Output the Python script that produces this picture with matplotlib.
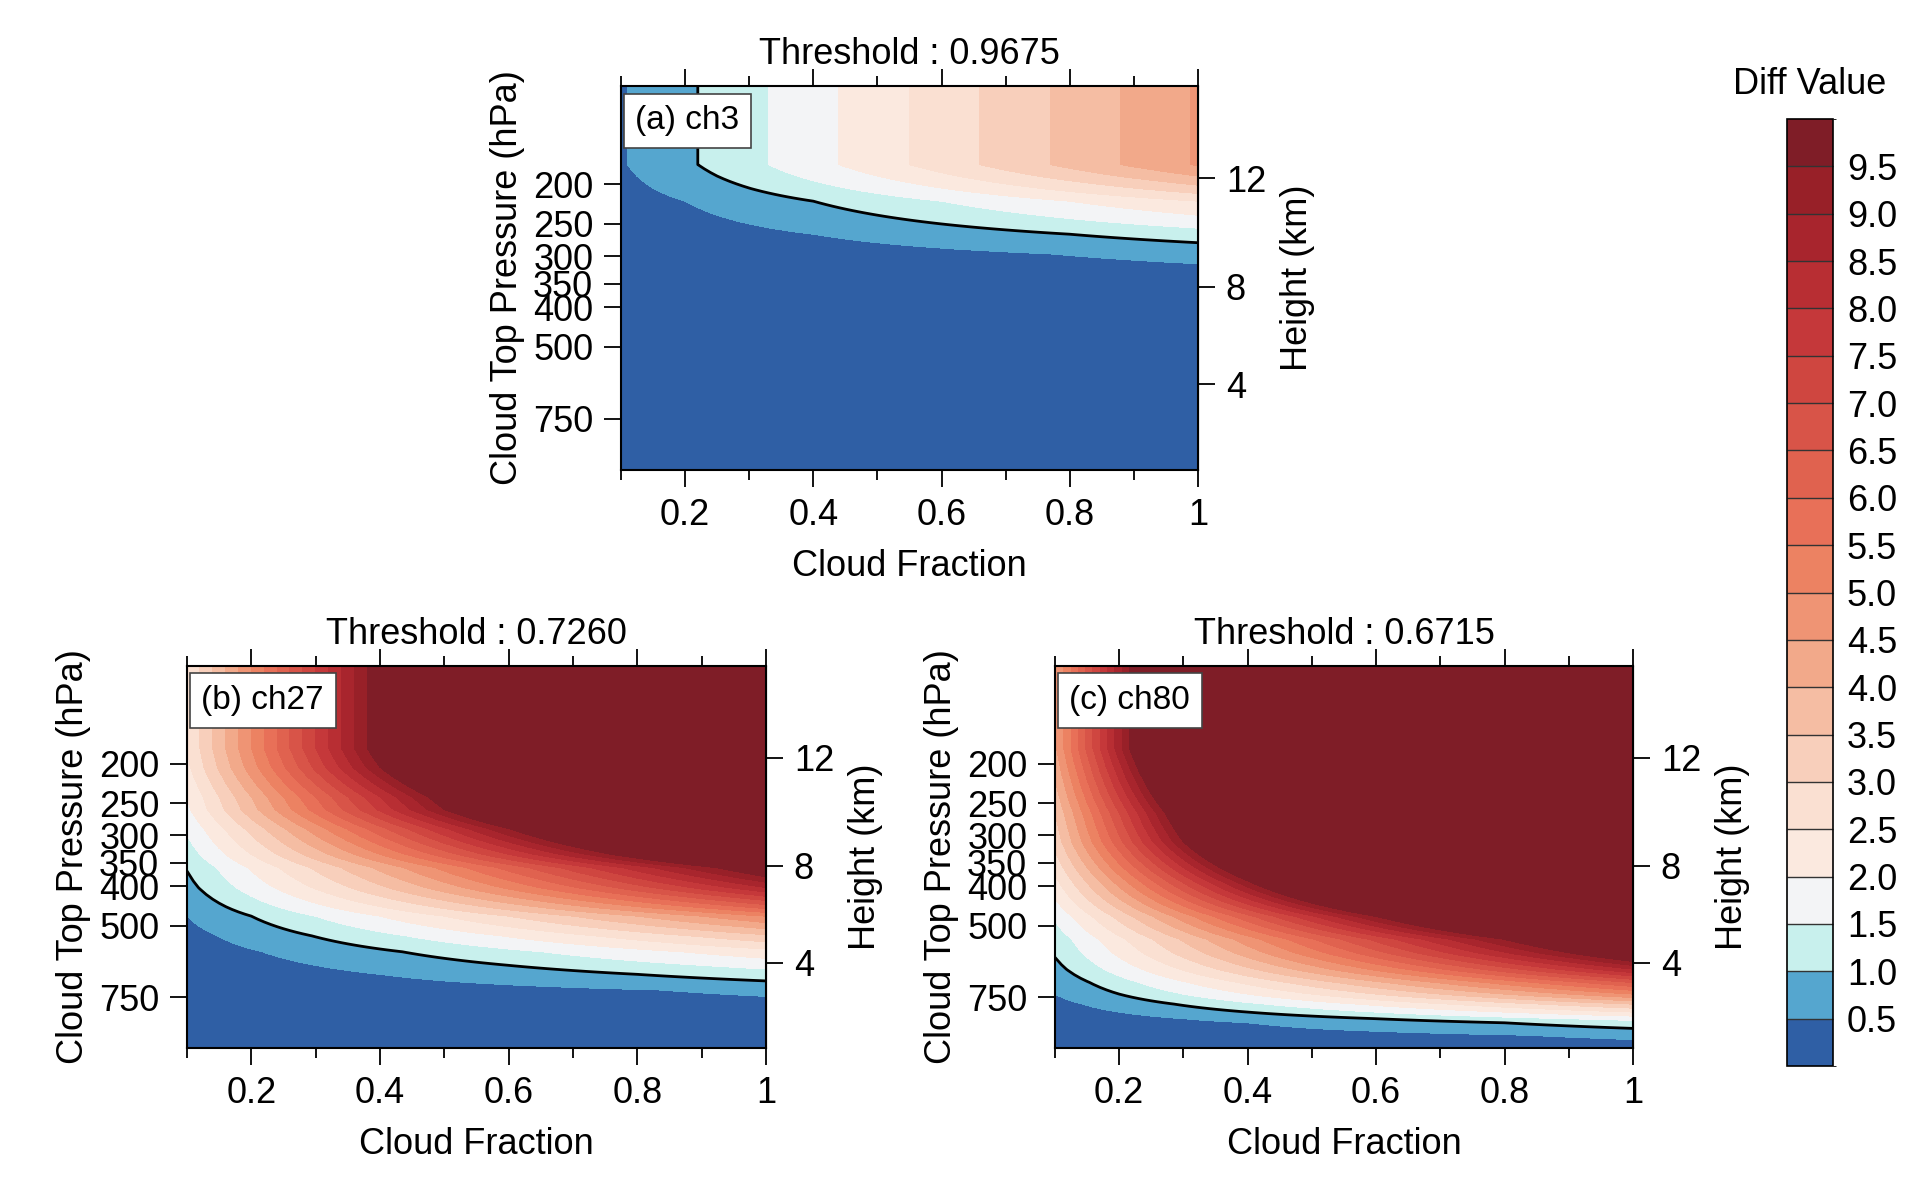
import numpy as np
import matplotlib
matplotlib.use('Agg')
from matplotlib import pyplot as plt
from matplotlib.colors import ListedColormap, BoundaryNorm

plt.rcParams['font.family'] = ['Liberation Sans', 'DejaVu Sans']

# cloud fraction axis and diff levels
frac = np.linspace(0.1, 1.0, 91)
levels = np.arange(0.5, 10.0, 0.5)

# diff per unit cloud fraction, read along pressure (hPa) for each channel
p_a = [115, 179, 191, 205, 220, 250, 265, 278, 296, 313, 400, 1000]
g_a = [4.55, 4.55, 4.0, 3.3, 2.5, 1.67, 1.25, 1.0, 0.65, 0.5, 0.25, 0.0]

p_b = [115, 183, 204, 241, 259, 289, 334, 360, 403, 450, 474, 530, 580, 626, 659, 684, 720, 800, 1000]
g_b = [25, 25, 23.75, 20, 19, 15.8, 12.5, 10.3, 8.5, 6.2, 5.0, 3.4, 2.3, 1.67, 1.25, 1.0, 0.6, 0.3, 0.0]

p_c = [115, 183, 264, 311, 388, 475, 540, 585, 640, 690, 737, 780, 816, 847, 867, 895, 930, 1000]
g_c = [44, 44, 35, 31.7, 23.75, 15.8, 11.9, 10.5, 8.5, 6.5, 5.0, 3.5, 2.5, 1.67, 1.25, 1.0, 0.6, 0.3]

panels = [('(a) ch3', 'Threshold : 0.9675', p_a, g_a),
          ('(b) ch27', 'Threshold : 0.7260', p_b, g_b),
          ('(c) ch80', 'Threshold : 0.6715', p_c, g_c)]

colors = ['#2f5fa5', '#55a6cf', '#c8f0ed', '#f3f4f6', '#fbe9df', '#fae0d2',
          '#f8cfbb', '#f5bda3', '#f2a98a', '#ef9474', '#ec8262', '#e87058',
          '#e0624f', '#d85448', '#cf4640', '#c5383a', '#b82e33', '#a8252d',
          '#982028', '#7f1d27']
cmap = ListedColormap(colors[1:-1])
cmap.set_under(colors[0])
cmap.set_over(colors[-1])
norm = BoundaryNorm(levels, cmap.N)

W, H = 1906, 1190
fig = plt.figure(figsize=(W / 100, H / 100), dpi=100)


def p2z(p):
    p = np.asarray(p, dtype=float)
    p = np.clip(p, 1, 2000)
    z1 = (1 - (p / 1013.25) ** (1 / 5.25588)) / 2.25577e-5
    z2 = 11000 - 6341.6 * np.log(p / 226.32)
    return np.where(p > 226.32, z1, z2) / 1000.0


def z2p(z):
    z = np.asarray(z, dtype=float) * 1000.0
    p1 = 1013.25 * np.clip(1 - 2.25577e-5 * z, 1e-6, None) ** 5.25588
    p2 = 226.32 * np.exp(-(z - 11000) / 6341.6)
    return np.where(z < 11000, p1, p2)


boxes = [(621, 86, 1198, 470), (187, 666, 766, 1048), (1055, 666, 1633, 1048)]
fs = 26
for (lab, title, pp, gg), (x0, y0, x1, y1) in zip(panels, boxes):
    ax = fig.add_axes([x0 / W, 1 - y1 / H, (x1 - x0) / W, (y1 - y0) / H])
    X, P = np.meshgrid(frac, np.array(pp, dtype=float))
    Z = X * np.array(gg)[:, None]
    ax.contourf(X, P, Z, levels=levels, cmap=cmap, norm=norm, extend='both')
    ax.contour(X, P, Z, levels=[1.0], colors='k', linewidths=2)
    ax.set_yscale('log')
    ax.set_ylim(1000, 115)
    ax.set_xlim(0.1, 1.0)
    ax.set_yticks([200, 250, 300, 350, 400, 500, 750])
    ax.set_yticklabels(['200', '250', '300', '350', '400', '500', '750'])
    ax.yaxis.set_minor_locator(matplotlib.ticker.NullLocator())
    ax.set_xticks([0.2, 0.4, 0.6, 0.8, 1.0])
    ax.set_xticklabels(['0.2', '0.4', '0.6', '0.8', '1'])
    ax.set_xticks(np.arange(0.1, 1.0, 0.2), minor=True)
    ax.tick_params(axis='both', which='major', labelsize=fs, length=12, width=1.3,
                   direction='out', top=True, pad=8)
    ax.tick_params(axis='x', which='minor', length=7, width=1.3, direction='out', top=True)
    ax.tick_params(axis='y', right=False)
    for s in ax.spines.values():
        s.set_linewidth(1.5)
    ax.set_xlabel('Cloud Fraction', fontsize=fs, labelpad=12)
    ax.set_ylabel('Cloud Top Pressure (hPa)', fontsize=fs, labelpad=6)
    ax.set_title(title, fontsize=fs, pad=16)
    ax.text(0.025, 0.95, lab, transform=ax.transAxes, fontsize=24, va='top', ha='left',
            bbox=dict(boxstyle='square,pad=0.35', facecolor='white', edgecolor='#444444', lw=1.2))
    sec = ax.secondary_yaxis('right', functions=(p2z, z2p))
    sec.yaxis.set_major_locator(matplotlib.ticker.FixedLocator([4, 8, 12]))
    sec.yaxis.set_major_formatter(matplotlib.ticker.FixedFormatter(['4', '8', '12']))
    sec.yaxis.set_minor_locator(matplotlib.ticker.NullLocator())
    sec.tick_params(labelsize=fs, length=12, width=1.3, direction='out', pad=8)
    sec.set_ylabel('Height (km)', fontsize=fs, labelpad=10)

# colour bar
cax = fig.add_axes([1787 / W, 1 - 1066 / H, 46 / W, (1066 - 119) / H])
bounds = np.arange(0.0, 10.5, 0.5)
cb = matplotlib.colorbar.ColorbarBase(cax, cmap=ListedColormap(colors),
                                      norm=BoundaryNorm(bounds, 20),
                                      boundaries=bounds, ticks=levels,
                                      drawedges=True)
cb.set_ticklabels(['%.1f' % v for v in levels])
cb.outline.set_linewidth(1.2)
cb.dividers.set_color('#333333')
cb.dividers.set_linewidth(1.0)
cax.tick_params(labelsize=fs, length=0, pad=10)
cax.set_title('Diff Value', fontsize=fs, pad=18)

fig.savefig('out.png', dpi=100)
